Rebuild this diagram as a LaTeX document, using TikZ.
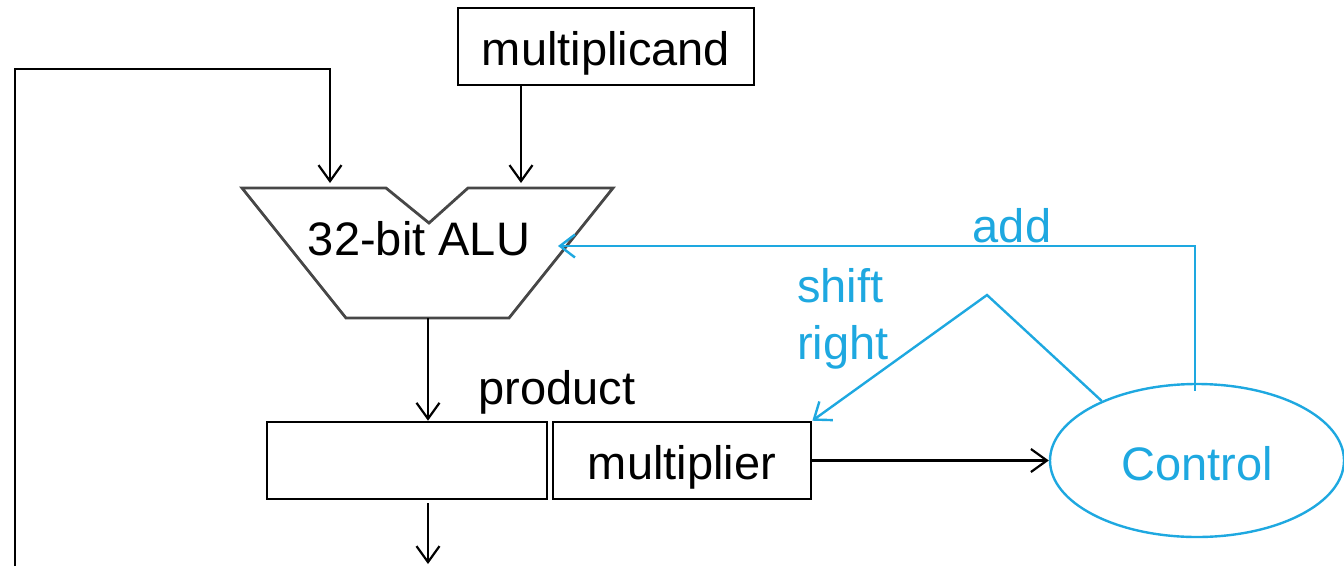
\documentclass[tikz,border=0pt]{standalone}
\usepackage{fontspec}
\setmainfont{Liberation Sans}
\usetikzlibrary{arrows.meta,shapes.geometric,calc}
\definecolor{ctrlblue}{RGB}{30,168,224}
\tikzset{
  wire/.style={line width=2.2pt,draw=black},
  arr/.style={-{Straight Barb[length=16pt,width=23pt,line width=2.2pt]}},
  lbl/.style={font=\fontsize{47}{56}\selectfont,inner sep=0pt},
  reg/.style={lbl,draw=black,line width=2.6pt,minimum height=77pt,text height=38pt,text depth=0pt},
  ctl/.style={line width=2.4pt,draw=ctrlblue},
  carr/.style={-{Straight Barb[length=15pt,width=23pt,line width=2.4pt]}},
  blbl/.style={lbl,text=ctrlblue}
}
\begin{document}
\begin{tikzpicture}[x=1pt,y=-1pt]
\useasboundingbox (0,0) rectangle (1344,566);

% ALU outline with its notch
\coordinate (a1) at (242,188);
\coordinate (a2) at (386,188);
\coordinate (a3) at (429,223);
\coordinate (a4) at (468,188);
\coordinate (a5) at (613,188);
\coordinate (a6) at (509,318);
\coordinate (a7) at (346,318);
\draw[line width=2.8pt,draw=black!72,line join=miter] (a1) -- (a2) -- (a3) -- (a4) -- (a5) -- (a6) -- (a7) -- cycle;
\node[lbl,anchor=base] (alu) at (419,255) {32-bit ALU};
\coordinate (ina) at (330,183);
\coordinate (inb) at (521,183);
\coordinate (aluout) at (428,318);
\coordinate (addin) at (558,246);

% registers
\node[reg,minimum width=296pt] (mcand) at (606,46.5) {multiplicand};
\node[reg,minimum width=280pt] (prod) at (407,460.5) {};
\node[reg,minimum width=258pt] (mult) at (682,460.5) {multiplier};
\node[lbl,anchor=base] (plabel) at (557,404) {product};

% control unit
\node[ctl,ellipse,minimum width=294pt,minimum height=153pt,inner sep=0pt,blbl,text height=39pt,text depth=0pt] (ctrl) at (1197,460.5) {Control};

% black data paths
\coordinate (fbstart) at (15,566);
\coordinate (fbtop) at (15,69);
\draw[wire,arr] (fbstart) -- (fbtop) -- (fbtop -| ina) -- (ina);
\draw[wire,arr] (mcand.south -| inb) -- (inb);
\draw[wire,arr] (aluout) -- (aluout |- prod.north);
\coordinate (outend) at (428,564);
\draw[wire,arr] (outend |- prod.south) ++(0,3) -- (outend);
\draw[wire,arr] (mult.east) -- (ctrl.west);

% control signals
\coordinate (addcorner) at (1195,246);
\draw[ctl,carr] ($(ctrl.north)+(-2,8)$) -- (addcorner) -- (addin);
\node[blbl] (addlbl) at (1012,226) {add};
\coordinate (peak) at (987,295);
\draw[ctl,carr] (ctrl.148) -- (peak) -- (mult.north east);
\node[blbl,align=left,anchor=north west,font=\fontsize{47}{57}\selectfont] (shiftlbl) at (797,268) {shift\\right};
\end{tikzpicture}
\end{document}
